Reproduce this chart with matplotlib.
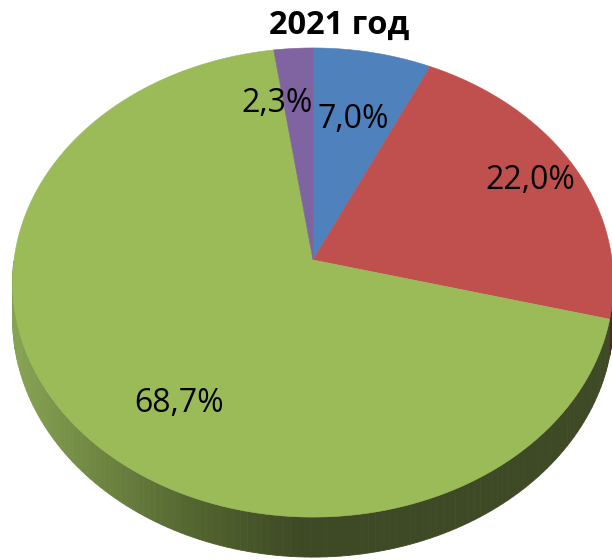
import numpy as np
import matplotlib.pyplot as plt
import matplotlib.colors as mcolors

# Share of each category, 2021
labels = ["7,0%", "22,0%", "68,7%", "2,3%"]
values = [7.0, 22.0, 68.7, 2.3]
colors = ["#4F81BD", "#C0504D", "#9BBB59", "#8064A2"]
title = "2021 год"

# label placement on the disk (radius fraction, angle nudge in degrees)
label_r = [0.66, 0.83, 0.72, 0.73]
label_nudge = [0, 0, 12, 6]

# 3D pie geometry in pixel space
cx, cy = 313, 260
A, B, k = 299, 232.4, 0.096
depth = 40


def project(X, Y, z=0.0):
    w = 1 + k * Y
    sx = cx + A * X / w
    sy = cy - B * Y / w + z * depth * (1 - k) / w
    return sx, sy


def side_color(x):
    light = np.array(mcolors.to_rgb("#86a252"))
    mid = np.array(mcolors.to_rgb("#52642f"))
    dark = np.array(mcolors.to_rgb("#3e4a25"))
    if x < 200:
        t = max(x - 20, 0) / 180
        return light + (mid - light) * t
    t = min((x - 200) / 100, 1)
    return mid + (dark - mid) * t


fig = plt.figure(figsize=(6.12, 5.6), dpi=100)
ax = fig.add_axes([0, 0, 1, 1])
ax.set_xlim(0, 612)
ax.set_ylim(560, 0)
ax.axis("off")

frac = np.array(values) / sum(values)
starts = 90 - 360 * np.concatenate([[0], np.cumsum(frac)[:-1]])
ends = 90 - 360 * np.cumsum(frac)

# side wall (front half only)
for s, e, c in zip(starts, ends, colors):
    ths = np.linspace(s, e, 200)
    for a0, a1 in zip(ths[:-1], ths[1:]):
        m = ((a0 + a1) / 2) % 360
        if not (180 <= m <= 360):
            continue
        t0, t1 = np.radians(a0), np.radians(a1)
        p = [project(np.cos(t0), np.sin(t0)), project(np.cos(t1), np.sin(t1)),
             project(np.cos(t1), np.sin(t1), 1), project(np.cos(t0), np.sin(t0), 1)]
        xs, ys = zip(*p)
        if c == "#9BBB59":
            col = side_color(xs[0])
        else:
            col = np.array(mcolors.to_rgb(c)) * 0.45
        ax.fill(xs, ys, color=col, lw=0.6, ec=col)

# top surface
for s, e, c in zip(starts, ends, colors):
    ths = np.radians(np.linspace(s, e, 300))
    pts = [project(0, 0)] + [project(np.cos(t), np.sin(t)) for t in ths]
    xs, ys = zip(*pts)
    ax.fill(xs, ys, color=c, lw=0.4, ec=c)

# labels
for lab, s, e, r, nd in zip(labels, starts, ends, label_r, label_nudge):
    t = np.radians((s + e) / 2 + nd)
    x, y = project(r * np.cos(t), r * np.sin(t))
    ax.text(x, y, lab, ha="center", va="center", fontsize=23,
            family="Open Sans", color="black")

ax.text(339, 25, title, ha="center", va="center", fontsize=23.5,
        fontweight="bold", family="Open Sans", color="black")

fig.savefig("out.png", dpi=100)
